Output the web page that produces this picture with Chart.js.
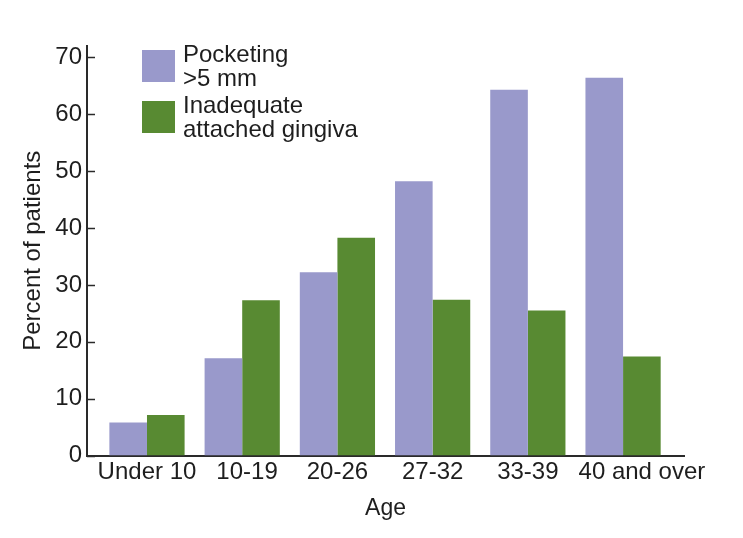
<!DOCTYPE html>
<html>
<head>
<meta charset="utf-8">
<script src="https://cdn.jsdelivr.net/npm/chart.js@4.4.0/dist/chart.umd.min.js"></script>
<style>
  html, body { margin: 0; padding: 0; background: #fff; }
  #wrap { position: relative; width: 743px; height: 538px; }
  #legend { position: absolute; left: 142px; top: 42px; font-family: "Liberation Sans", Arial, sans-serif; font-size: 24px; line-height: 24px; color: #1e1e1e; }
  .item { display: flex; align-items: center; margin-bottom: 3px; }
  .box { width: 33px; height: 32px; margin-right: 8px; flex: none; }
</style>
</head>
<body>
<div id="wrap">
  <canvas id="myChart" width="743" height="538"></canvas>
  <div id="legend"></div>
</div>
<script>
var ageGroups = ['Under 10', '10-19', '20-26', '27-32', '33-39', '40 and over'];
var pocketing = [5.8, 17.1, 32.2, 48.2, 64.3, 66.4];
var gingiva = [7.1, 27.3, 38.3, 27.4, 25.5, 17.4];
var seriesNames = [['Pocketing', '>5 mm'], ['Inadequate', 'attached gingiva']];
var seriesColors = ['rgb(153, 153, 203)', 'rgb(88, 138, 50)'];

function toPoints(arr){
    var pts = [];
    for(var i = 0;i<arr.length;i++){
        pts.push({x: i, y: arr[i]});
    }
    return pts;
}

var font = "'Liberation Sans', Arial, sans-serif";

// small inward tick marks on the y axis, like the printed figure
var innerTicks = {
    id: 'innerTicks',
    afterDraw: function(chart){
        var y = chart.scales.y;
        var c = chart.ctx;
        c.save();
        c.strokeStyle = '#2a2a2a';
        c.lineWidth = 1.5;
        y.ticks.forEach(function(t){
            if (t.value % 5 !== 0 || t.value > 70) return;
            var py = Math.round(y.getPixelForValue(t.value)) + 0.5;
            var len = t.value % 10 === 0 ? 8 : 5;
            c.beginPath();
            c.moveTo(y.right, py);
            c.lineTo(y.right + len, py);
            c.stroke();
        });
        c.restore();
    }
};

// age labels under the bars; a label that would run into the previous one is pushed right
var ageLabels = {
    id: 'ageLabels',
    afterDraw: function(chart){
        var x = chart.scales.x;
        var c = chart.ctx;
        var minGap = 20;
        var prevRight = -Infinity;
        c.save();
        c.font = '24px ' + font;
        c.fillStyle = '#1e1e1e';
        c.textAlign = 'left';
        c.textBaseline = 'top';
        for(var i = 0;i<ageGroups.length;i++){
            var w = c.measureText(ageGroups[i]).width;
            var left = x.getPixelForValue(i) - w / 2;
            if (left < prevRight + minGap) left = prevRight + minGap;
            c.fillText(ageGroups[i], left, x.top + 5);
            prevRight = left + w;
        }
        c.restore();
    }
};

Chart.defaults.font.family = font;
Chart.defaults.color = '#1e1e1e';

var ctx = document.getElementById('myChart').getContext('2d');
var chart = new Chart(ctx, {
    type: 'bar',
    data: {
        datasets: [{
            label: seriesNames[0].join(' '),
            data: toPoints(pocketing),
            backgroundColor: seriesColors[0]
        }, {
            label: seriesNames[1].join(' '),
            data: toPoints(gingiva),
            backgroundColor: seriesColors[1]
        }]
    },
    options: {
        responsive: false,
        animation: false,
        layout: { padding: { top: 46, right: 59, left: 0, bottom: 0 } },
        datasets: { bar: { categoryPercentage: 0.79, barPercentage: 1.0 } },
        plugins: { legend: { display: false }, tooltip: { enabled: false } },
        scales: {
            x: {
                type: 'linear',
                offset: false,
                min: -0.63,
                max: 5.64,
                grid: { display: false, drawTicks: false },
                border: { display: true, color: '#2a2a2a', width: 2 },
                ticks: { display: false, stepSize: 1, includeBounds: false },
                title: { display: true, text: 'Age', font: { size: 23 }, padding: { top: 0, bottom: 16 } },
                afterFit: function(s){ s.height = 82.5; }
            },
            y: {
                min: 0,
                max: 72,
                grid: { display: false, drawTicks: false },
                border: { display: true, color: '#2a2a2a', width: 2 },
                ticks: {
                    stepSize: 5,
                    includeBounds: false,
                    padding: 5,
                    font: { size: 24 },
                    callback: function(v){ return v % 10 === 0 && v <= 70 ? v : ''; }
                },
                title: { display: true, text: 'Percent of patients', font: { size: 24 }, padding: { top: 19, bottom: 0 } },
                afterFit: function(s){ s.width = 87; }
            }
        }
    },
    plugins: [innerTicks, ageLabels]
});

// legend with two-line labels
var legend = document.getElementById('legend');
for(var i = 0;i<seriesNames.length;i++){
    var item = document.createElement('div');
    item.className = 'item';
    item.innerHTML = '<div class="box" style="background:' + seriesColors[i] + '"></div><div>' +
        seriesNames[i][0] + '<br>' + seriesNames[i][1].replace('>', '&gt;') + '</div>';
    legend.appendChild(item);
}
</script>
</body>
</html>
